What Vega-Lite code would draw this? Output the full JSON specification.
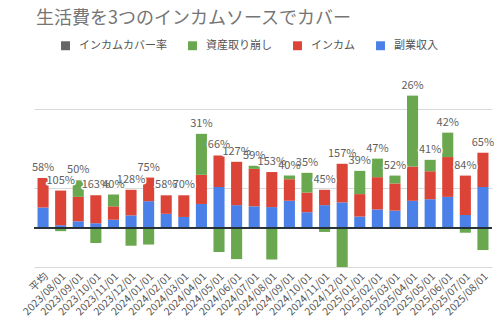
{
  "$schema": "https://vega.github.io/schema/vega-lite/v6.json",
  "width": 458,
  "height": 197,
  "autosize": "none",
  "padding": {"left": 34, "top": 70, "right": 8, "bottom": 61},
  "config": {
    "view": {"stroke": null},
    "font": "Noto Sans CJK JP",
    "axis": {"labelFont": "Noto Sans CJK JP"},
    "legend": {"labelFont": "Noto Sans CJK JP"}
  },
  "title": {
    "text": "生活費を3つのインカムソースでカバー",
    "anchor": "start",
    "frame": "group",
    "fontSize": 18,
    "fontWeight": "normal",
    "color": "#757575",
    "dx": 2,
    "offset": 12
  },
  "data": {
    "values": [
      {"d": "平均", "blue": 0.51, "red": 0.75, "green": 0, "rate": "58%"},
      {"d": "2023/08/01", "blue": 0.06, "red": 0.88, "green": -0.09, "rate": "105%"},
      {"d": "2023/09/01", "blue": 0.16, "red": 0.62, "green": 0.42, "rate": "50%"},
      {"d": "2023/10/01", "blue": 0.11, "red": 0.71, "green": -0.39, "rate": "163%"},
      {"d": "2023/11/01", "blue": 0.2, "red": 0.34, "green": 0.3, "rate": "40%"},
      {"d": "2023/12/01", "blue": 0.31, "red": 0.65, "green": -0.46, "rate": "128%"},
      {"d": "2024/01/01", "blue": 0.67, "red": 0.6, "green": -0.43, "rate": "75%"},
      {"d": "2024/02/01", "blue": 0.35, "red": 0.47, "green": 0, "rate": "58%"},
      {"d": "2024/03/01", "blue": 0.27, "red": 0.55, "green": 0, "rate": "70%"},
      {"d": "2024/04/01", "blue": 0.6, "red": 0.74, "green": 1.04, "rate": "31%"},
      {"d": "2024/05/01", "blue": 1.03, "red": 0.8, "green": -0.62, "rate": "66%"},
      {"d": "2024/06/01", "blue": 0.57, "red": 1.1, "green": -0.8, "rate": "127%"},
      {"d": "2024/07/01", "blue": 0.54, "red": 0.95, "green": 0.08, "rate": "59%"},
      {"d": "2024/08/01", "blue": 0.52, "red": 0.89, "green": -0.81, "rate": "153%"},
      {"d": "2024/09/01", "blue": 0.68, "red": 0.55, "green": 0.09, "rate": "40%"},
      {"d": "2024/10/01", "blue": 0.39, "red": 0.5, "green": 0.5, "rate": "35%"},
      {"d": "2024/11/01", "blue": 0.57, "red": 0.39, "green": -0.11, "rate": "45%"},
      {"d": "2024/12/01", "blue": 0.64, "red": 0.98, "green": -1.0, "rate": "157%"},
      {"d": "2025/01/01", "blue": 0.28, "red": 0.57, "green": 0.59, "rate": "39%"},
      {"d": "2025/02/01", "blue": 0.46, "red": 0.82, "green": 0.47, "rate": "47%"},
      {"d": "2025/03/01", "blue": 0.43, "red": 0.69, "green": 0.2, "rate": "52%"},
      {"d": "2025/04/01", "blue": 0.68, "red": 0.87, "green": 1.8, "rate": "26%"},
      {"d": "2025/05/01", "blue": 0.72, "red": 0.71, "green": 0.29, "rate": "41%"},
      {"d": "2025/06/01", "blue": 0.78, "red": 1.01, "green": 0.62, "rate": "42%"},
      {"d": "2025/07/01", "blue": 0.32, "red": 1.0, "green": -0.13, "rate": "84%"},
      {"d": "2025/08/01", "blue": 1.03, "red": 0.87, "green": -0.57, "rate": "65%"}
    ]
  },
  "encoding": {
    "x": {
      "field": "d",
      "type": "nominal",
      "sort": null,
      "scale": {"paddingInner": 0.37, "paddingOuter": 0.2},
      "axis": {
        "title": null,
        "labelAngle": -45,
        "labelFontSize": 10.5,
        "labelColor": "#555",
        "ticks": false,
        "domain": false,
        "labelPadding": 4
      }
    }
  },
  "layer": [
    {
      "transform": [
        {"fold": ["blue", "red", "green"], "as": ["k", "v"]},
        {"calculate": "datum.k === 'blue' ? '副業収入' : datum.k === 'red' ? 'インカム' : '資産取り崩し'", "as": "series"},
        {"calculate": "datum.k === 'blue' ? 1 : datum.k === 'red' ? 2 : 3", "as": "ord"}
      ],
      "mark": {"type": "bar"},
      "encoding": {
        "y": {
          "field": "v",
          "type": "quantitative",
          "stack": "zero",
          "scale": {"domain": [-1, 4], "nice": false},
          "axis": {
            "title": null,
            "labels": false,
            "ticks": false,
            "domain": false,
            "values": [-1, 0, 1, 2, 3, 4],
            "gridColor": "#d9d9d9",
            "gridWidth": 1
          }
        },
        "color": {
          "field": "series",
          "type": "nominal",
          "scale": {
            "domain": ["インカムカバー率", "資産取り崩し", "インカム", "副業収入"],
            "range": ["#666666", "#6aa84f", "#db4437", "#4a80e8"]
          },
          "legend": {
            "title": null,
            "orient": "none",
            "direction": "horizontal",
            "legendX": 26,
            "legendY": -30,
            "symbolType": "square",
            "symbolSize": 80,
            "symbolStrokeWidth": 0,
            "labelFontSize": 11,
            "labelColor": "#555",
            "columnPadding": 20,
            "labelOffset": 8
          }
        },
        "order": {"field": "ord", "type": "quantitative"}
      }
    },
    {
      "mark": {"type": "rule", "color": "#263238", "strokeWidth": 1},
      "encoding": {"y": {"datum": 0, "type": "quantitative"}, "x": null}
    },
    {
      "transform": [
        {"calculate": "datum.blue + datum.red + max(datum.green, 0)", "as": "top"}
      ],
      "mark": {"type": "text", "dy": -10, "fontSize": 11, "stroke": "white", "strokeWidth": 3, "strokeJoin": "round", "fill": "white"},
      "encoding": {
        "y": {"field": "top", "type": "quantitative"},
        "text": {"field": "rate"}
      }
    },
    {
      "transform": [
        {"calculate": "datum.blue + datum.red + max(datum.green, 0)", "as": "top"}
      ],
      "mark": {"type": "text", "dy": -10, "fontSize": 11, "fill": "#5f5f5f"},
      "encoding": {
        "y": {"field": "top", "type": "quantitative"},
        "text": {"field": "rate"}
      }
    }
  ]
}
